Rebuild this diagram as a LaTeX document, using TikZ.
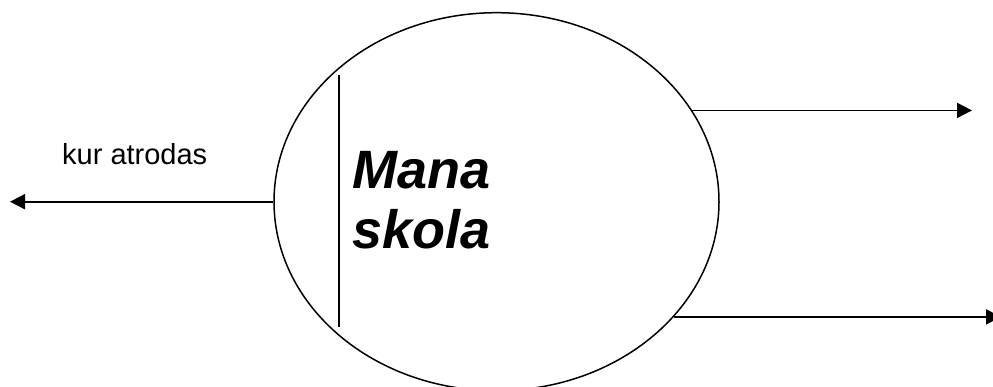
\documentclass[tikz,border=0pt]{standalone}
\usepackage{fontspec}
\setmainfont{Liberation Sans}
\usetikzlibrary{shapes.geometric,arrows.meta}

\begin{document}
\begin{tikzpicture}[x=1pt,y=-1pt,
    flow/.style={line width=1.8pt,-{Triangle[length=15pt,width=15pt]}}]
    % Frame
    \clip (0,0) rectangle (993,387);

    % School bubble
    \node[draw, ellipse, line width=1.5pt, inner sep=0pt, minimum width=445pt, minimum height=378pt] (school) at (496.5,201.7) {};
    \coordinate (bartop) at (339,75);
    \coordinate (barbot) at (339,327);
    \draw[line width=2pt] (bartop) -- (barbot);

    % Labels
    \node[anchor=base west, inner sep=0pt, font=\fontsize{29}{33}\selectfont] (where) at (62,165) {kur atrodas};
    \node[anchor=north west, align=left, inner sep=0pt, font=\fontsize{54}{60}\selectfont\bfseries\itshape] (name) at (352,151) {Mana\\skola};

    % Flows
    \coordinate (leftend) at (10,201.7);
    \coordinate (topend) at (972,109);
    \coordinate (lowend) at (1001,319);
    \draw[flow] (school.west) -- (leftend);
    \draw[flow] (school.25.4) -- (school.25.4 -| topend);
    \draw[flow] (school.-33.8) -- (school.-33.8 -| lowend);
\end{tikzpicture}
\end{document}
